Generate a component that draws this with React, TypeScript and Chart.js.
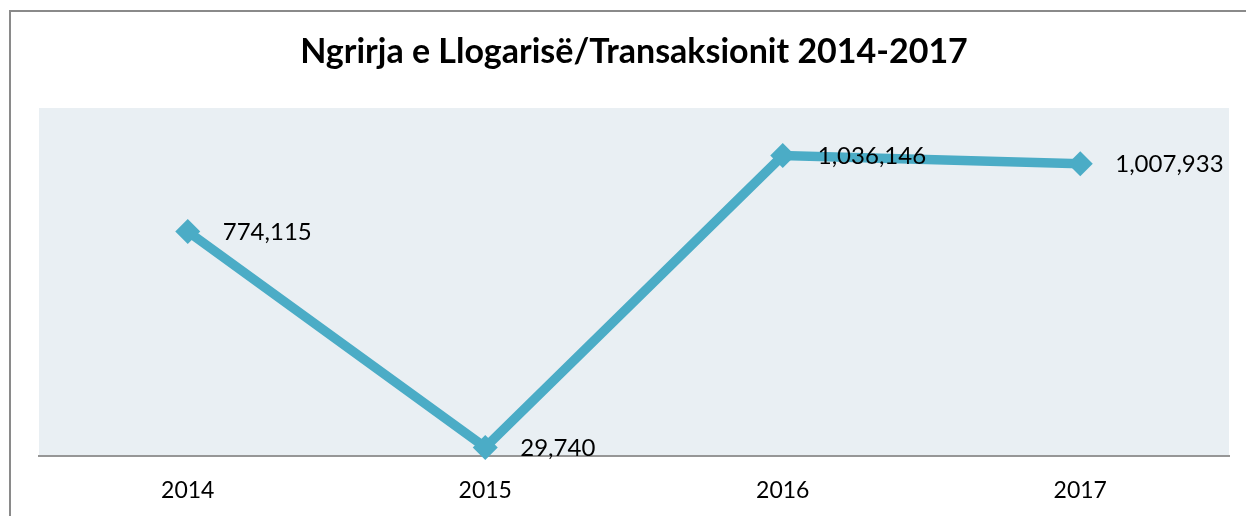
import React, { useEffect, useRef } from "react";
import { Chart, registerables } from "chart.js";

Chart.register(...registerables);

const categories: string[] = ["2014", "2015", "2016", "2017"];
const values: number[] = [774115, 29740, 1036146, 1007933];
const titleText = "Ngrirja e Llogarisë/Transaksionit 2014-2017";
const yMin = 0;
const yMax = 1200000;

const FONT = "Lato";

export default function App() {
  const ref = useRef<HTMLCanvasElement | null>(null);

  useEffect(() => {
    document.body.style.margin = "0";
    const canvas = ref.current;
    if (!canvas) return;
    const fmt = (v: number) => v.toLocaleString("en-US");

    const framePlugin = {
      id: "frame",
      beforeDraw(chart: any) {
        const { ctx, chartArea } = chart;
        ctx.save();
        ctx.fillStyle = "#ffffff";
        ctx.fillRect(0, 0, chart.width, chart.height);
        ctx.strokeStyle = "#8a8a8a";
        ctx.lineWidth = 2;
        ctx.beginPath();
        ctx.moveTo(10, chart.height + 5);
        ctx.lineTo(10, 11);
        ctx.lineTo(chart.width + 5, 11);
        ctx.stroke();
        ctx.fillStyle = "#E9EFF3";
        ctx.fillRect(
          chartArea.left,
          chartArea.top,
          chartArea.right - chartArea.left,
          chartArea.bottom - chartArea.top
        );
        ctx.restore();
      },
    };

    const labelPlugin = {
      id: "valueLabels",
      afterDatasetsDraw(chart: any) {
        const { ctx } = chart;
        const meta = chart.getDatasetMeta(0);
        const data = chart.data.datasets[0].data as number[];
        ctx.save();
        ctx.font = `24px ${FONT}`;
        ctx.fillStyle = "#000000";
        ctx.textAlign = "left";
        ctx.textBaseline = "middle";
        meta.data.forEach((pt: any, i: number) => {
          ctx.fillText(fmt(data[i]), pt.x + 35, pt.y + 1);
        });
        ctx.restore();
      },
    };

    const chart = new Chart(canvas, {
      type: "line",
      data: {
        labels: categories,
        datasets: [
          {
            data: values,
            borderColor: "#4BACC6",
            backgroundColor: "#4BACC6",
            borderWidth: 9.5,
            pointStyle: "rectRot",
            pointRadius: 12.5,
            pointHoverRadius: 12.5,
            pointBackgroundColor: "#4BACC6",
            pointBorderColor: "#4BACC6",
            pointBorderWidth: 0,
            tension: 0,
            clip: false as any,
          },
        ],
      },
      options: {
        responsive: false,
        animation: false,
        layout: { padding: { left: 39, right: 17, top: 0, bottom: 0 } },
        plugins: {
          legend: { display: false },
          tooltip: { enabled: false },
          title: {
            display: true,
            text: titleText,
            color: "#000000",
            font: { family: FONT, size: 34, weight: "bold" },
            padding: { top: 31.6, bottom: 35.6 },
          },
        },
        scales: {
          x: {
            type: "category",
            offset: true,
            grid: { display: false, drawTicks: false, tickLength: 0 },
            border: { display: true, color: "#969696", width: 2 },
            ticks: {
              color: "#000000",
              font: { family: FONT, size: 23 },
              padding: 21,
            },
            afterFit(scale: any) {
              scale.height = 60;
            },
          },
          y: {
            display: false,
            min: yMin,
            max: yMax,
          },
        },
      },
      plugins: [framePlugin, labelPlugin],
    });

    return () => chart.destroy();
  }, []);

  return (
    <div style={{ position: "absolute", left: 0, top: 0, width: 1246, height: 516 }}>
      <canvas ref={ref} width={1246} height={516} />
    </div>
  );
}
